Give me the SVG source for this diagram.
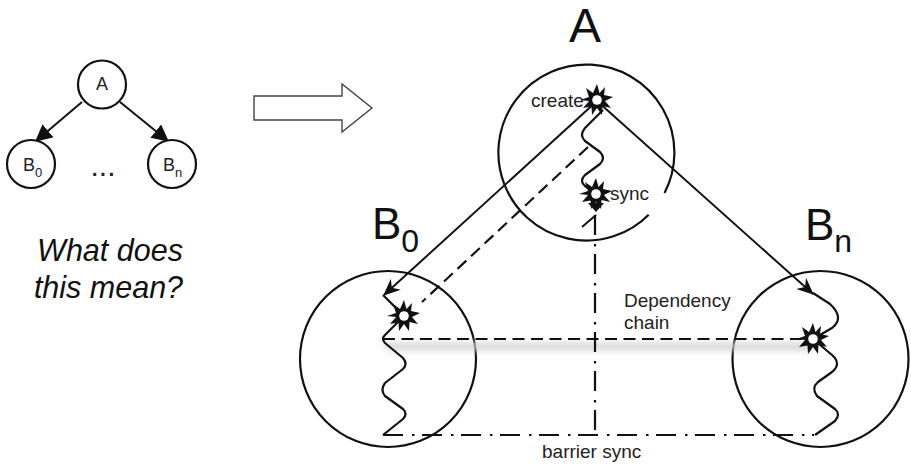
<svg xmlns="http://www.w3.org/2000/svg" xmlns:xlink="http://www.w3.org/1999/xlink" width="911" height="464" viewBox="0 0 911 464">
<style>
text{font-family:"Liberation Sans",Arial,sans-serif;fill:#222}
.n{fill:#fff;stroke:#111;stroke-width:2.2}
.big{fill:none;stroke:#111;stroke-width:2.2}
.l{fill:none;stroke:#111;stroke-width:2}
.w{fill:none;stroke:#111;stroke-width:2.2;stroke-linejoin:round}
.da{fill:none;stroke:#111;stroke-width:2.2;stroke-dasharray:12 6.5}
.dd{fill:none;stroke:#111;stroke-width:2.2;stroke-dasharray:20 9 2.5 7.5}
.t{font-size:19px}
.m{font-size:18px}
.sub{font-size:13px}
.h{font-size:48px;fill:#111}
.hb{font-size:44px;fill:#111}
.hs{font-size:32px}
.q{font-size:30.5px;font-style:italic;fill:#111}
</style>
<defs>
<marker id="ah" viewBox="0 0 16 14" refX="15" refY="7" markerWidth="17" markerHeight="15" markerUnits="userSpaceOnUse" orient="auto"><path d="M0 0L16 7L0 14L5 7Z" fill="#111"/></marker>
<marker id="sa" viewBox="0 0 14 14" refX="13" refY="7" markerWidth="17" markerHeight="17" markerUnits="userSpaceOnUse" orient="auto"><path d="M0 0L14 7L0 14Z" fill="#111"/></marker>
<filter id="blur" filterUnits="userSpaceOnUse" x="360" y="325" width="480" height="40"><feGaussianBlur stdDeviation="3.5"/></filter>
<g id="star"><path d="M0-16L2.5-7L8-13L7-5L16-3L8 1L14 8L5.5 6L5 15L0 8L-5 15L-5.5 6.5L-14 8L-8 1L-17 0L-8-3L-11-12L-4-7Z" fill="#111"/><circle r="4.8" fill="#fff"/></g>
</defs>
<rect width="911" height="464" fill="#fff"/>
<g id="mini-tree">
<g id="mini-edges" class="connectors">
<path class="l" d="M82 102L36 141" marker-end="url(#sa)"/>
<path class="l" d="M120 102L168 141" marker-end="url(#sa)"/>
</g>
<g id="mini-a"><circle class="n" cx="102" cy="84.5" r="24"/><text class="m" x="102" y="90" text-anchor="middle">A</text></g>
<g id="mini-b0"><circle class="n" cx="31" cy="164" r="24"/><text class="m" x="23" y="171">B<tspan class="sub" dy="6">0</tspan></text></g>
<g id="mini-bn"><circle class="n" cx="172" cy="164" r="24"/><text class="m" x="163" y="171">B<tspan class="sub" dy="6">n</tspan></text></g>
<text id="dots" x="103" y="176" text-anchor="middle" font-size="30">...</text>
</g>
<text class="q" x="110" y="261" text-anchor="middle">What does</text>
<text class="q" x="108.5" y="298" text-anchor="middle">this mean?</text>
<path id="big-arrow" d="M254 96H342V84L372 108L342 132V120H254Z" fill="#fff" stroke="#444" stroke-width="1.4"/>
<g id="node-a"><path class="big" d="M648.7 214.7A88 88 0 1 1 664.5 193.1"/><text class="h" x="585" y="42" text-anchor="middle">A</text></g>
<g id="node-b0"><circle class="big" cx="388" cy="359" r="88"/><text class="hb" x="372" y="239">B<tspan class="hs" dy="13">0</tspan></text></g>
<g id="node-bn"><circle class="big" cx="820.5" cy="359" r="88"/><text class="hb" x="805" y="240">B<tspan class="hs" dy="12">n</tspan></text></g>
<rect x="385" y="343" width="428" height="7" fill="#d2d2d2" filter="url(#blur)"/>
<g id="connectors">
<path class="l" d="M597 101L384 295" marker-end="url(#ah)"/>
<path class="l" d="M597 101L813 294" marker-end="url(#ah)"/>
<path class="da" d="M588 147L422 302"/>
<path class="da" d="M383 339H806"/>
<path class="dd" d="M383 435H814"/>
<path class="dd" d="M595 215V435"/>
<path class="l" d="M582 227L596 215"/>
<path class="w" d="M603 110L585 128Q579 135 585 141L600 152Q606 158 600 164L585 175Q579 181 585 186L596 194"/>
<path class="w" d="M383 295L404 316L385 335Q381 339 385 343L403 358Q408 364 403 369L385 383Q380 390 385 396L403 409Q408 414 403 419L383 435"/>
<path class="w" d="M813 293L830 304Q845 318 832 328L813 339L832 355Q842 364 832 372L818 382Q811 388 817 396L835 409Q841 414 835 421L815 435"/>
</g>
<use xlink:href="#star" href="#star" x="597" y="100"/>
<use xlink:href="#star" href="#star" x="596" y="194"/>
<path d="M588 203L596 212L604 203Z" fill="#111"/>
<use xlink:href="#star" href="#star" x="404" y="316"/>
<use xlink:href="#star" href="#star" x="813" y="339"/>
<text class="t" x="531" y="107">create</text>
<text class="t" x="610" y="200">sync</text>
<text class="t" x="624" y="307">Dependency</text>
<text class="t" x="624" y="329">chain</text>
<text class="t" x="542" y="458">barrier sync</text>
</svg>
